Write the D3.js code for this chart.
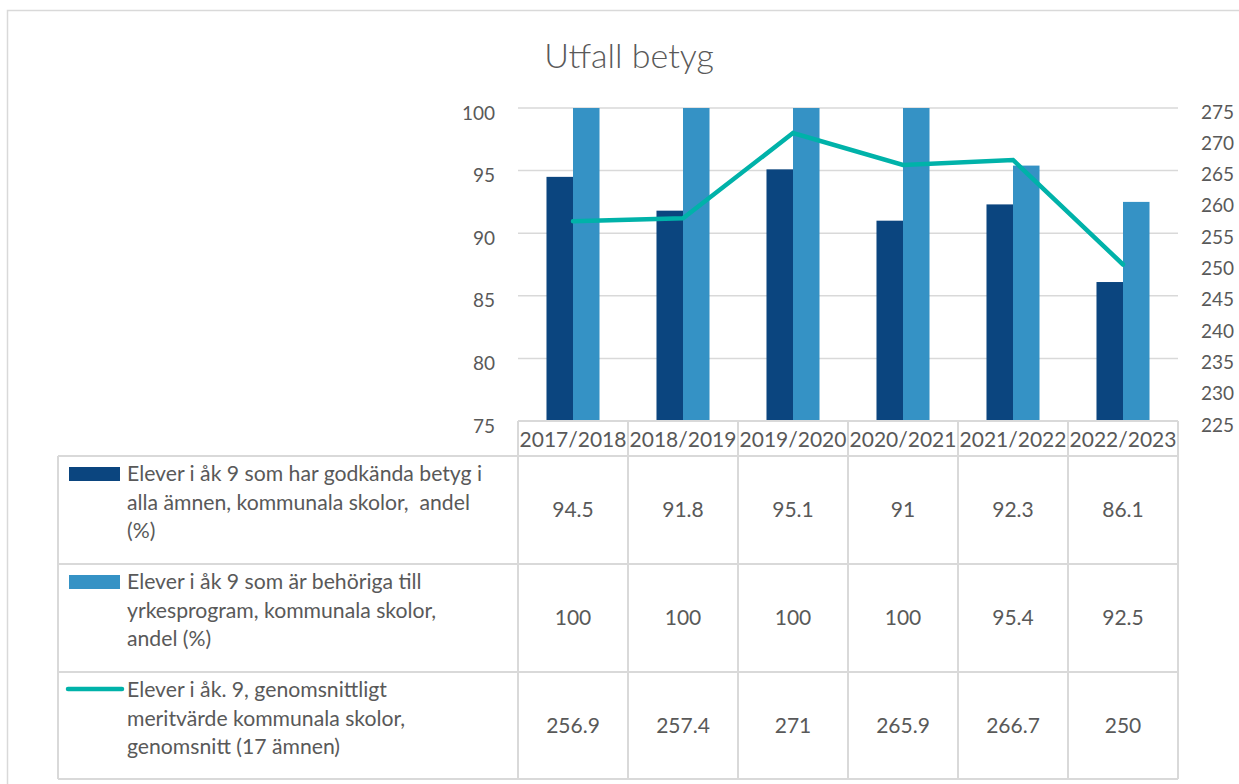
<!DOCTYPE html>
<html>
<head>
<meta charset="utf-8">
<script src="https://cdn.jsdelivr.net/npm/d3@7"></script>
<style>
  html, body { margin: 0; padding: 0; background: #fff; }
  svg { display: block; font-family: Lato, "Open Sans", sans-serif; }
</style>
</head>
<body>
<svg id="chart" width="1239" height="784"></svg>
<script>
// ---- data ----
const title = "Utfall betyg";
const categories = ["2017/2018", "2018/2019", "2019/2020", "2020/2021", "2021/2022", "2022/2023"];
const godkandaValues = [94.5, 91.8, 95.1, 91, 92.3, 86.1];
const behorigaValues = [100, 100, 100, 100, 95.4, 92.5];
const meritValues = [256.9, 257.4, 271, 265.9, 266.7, 250];
const leftTicks = [75, 80, 85, 90, 95, 100];
const rightTicks = [225, 230, 235, 240, 245, 250, 255, 260, 265, 270, 275];
const seriesNames = [
  ["Elever i åk 9 som har godkända betyg i", "alla ämnen, kommunala skolor,  andel", "(%)"],
  ["Elever i åk 9 som är behöriga till", "yrkesprogram, kommunala skolor,", "andel (%)"],
  ["Elever i åk. 9, genomsnittligt", "meritvärde kommunala skolor,", "genomsnitt (17 ämnen)"]
];
const tableValues = [
  ["94.5", "91.8", "95.1", "91", "92.3", "86.1"],
  ["100", "100", "100", "100", "95.4", "92.5"],
  ["256.9", "257.4", "271", "265.9", "266.7", "250"]
];

// ---- styles ----
const darkBlue = "#0b457f";
const lightBlue = "#3592c5";
const teal = "#00b2a9";
const textColor = "#595959";
const gridColor = "#d9d9d9";

const svg = d3.select("#chart");

// outer border
svg.append("rect").attr("x", 7.5).attr("y", 10.5).attr("width", 1400).attr("height", 900)
  .attr("fill", "none").attr("stroke", gridColor).attr("stroke-width", 1.5);

// title
svg.append("text").attr("x", 629).attr("y", 68).attr("text-anchor", "middle")
  .attr("fill", textColor).attr("font-size", 34).attr("font-weight", 300).text(title);

// scales
const plotLeft = 518, plotRight = 1178, plotTop = 108, plotBottom = 421;
const x = d3.scaleBand().domain(categories).range([plotLeft, plotRight]).paddingInner(0.518).paddingOuter(0.259);
const xCat = d3.scaleBand().domain(categories).range([plotLeft, plotRight]).padding(0);
const xSub = d3.scaleBand().domain([0, 1]).range([0, x.bandwidth()]);
const yL = d3.scaleLinear().domain([75, 100]).range([plotBottom, plotTop]);
const yR = d3.scaleLinear().domain([225, 275]).range([plotBottom, plotTop]);

// gridlines
svg.append("g").selectAll("line").data(leftTicks.filter(t => t > 75)).join("line")
  .attr("x1", plotLeft).attr("x2", plotRight)
  .attr("y1", d => yL(d)).attr("y2", d => yL(d))
  .attr("stroke", gridColor).attr("stroke-width", 1.5);

// left axis
const leftAxis = d3.axisLeft(yL).tickValues(leftTicks).tickSize(0).tickPadding(0);
const gL = svg.append("g").attr("transform", `translate(${plotLeft - 23},0)`).call(leftAxis);
gL.select(".domain").remove();
gL.selectAll("text").attr("fill", textColor).attr("font-size", 19)
  .attr("font-family", "Lato, sans-serif").attr("dy", "0.32em")
  .attr("transform", "translate(0,5)");

// right axis
const rightAxis = d3.axisRight(yR).tickValues(rightTicks).tickSize(0).tickPadding(0);
const gR = svg.append("g").attr("transform", `translate(${plotRight + 23},0)`).call(rightAxis);
gR.select(".domain").remove();
gR.selectAll("text").attr("fill", textColor).attr("font-size", 19)
  .attr("font-family", "Lato, sans-serif").attr("dy", "0.32em")
  .attr("transform", "translate(0,4)");

// bars
const barSeries = [godkandaValues, behorigaValues];
const barColors = [darkBlue, lightBlue];
barSeries.forEach((vals, si) => {
  svg.append("g").selectAll("rect").data(vals).join("rect")
    .attr("x", (d, i) => x(categories[i]) + xSub(si))
    .attr("width", xSub.bandwidth())
    .attr("y", d => yL(d))
    .attr("height", d => yL(75) - yL(d))
    .attr("fill", barColors[si]);
});

// line
const line = d3.line()
  .x((d, i) => xCat(categories[i]) + xCat.bandwidth() / 2)
  .y(d => yR(d));
svg.append("path").datum(meritValues).attr("d", line)
  .attr("fill", "none").attr("stroke", teal).attr("stroke-width", 4.5)
  .attr("stroke-linejoin", "miter").attr("stroke-linecap", "round");

// ---- data table ----
const tableLeft = 58, headerTop = plotBottom, headerBottom = 456;
const rowH = 108;
const rowTops = [0, 1, 2].map(i => headerBottom + i * rowH);
const tableBottom = headerBottom + 3 * rowH - 1;
const tbl = svg.append("g");

// header horizontal line
tbl.append("line").attr("x1", plotLeft).attr("x2", plotRight)
  .attr("y1", headerTop).attr("y2", headerTop).attr("stroke", gridColor).attr("stroke-width", 2);
// row horizontal lines
[...rowTops, tableBottom].forEach(yy => {
  tbl.append("line").attr("x1", tableLeft).attr("x2", plotRight)
    .attr("y1", yy).attr("y2", yy).attr("stroke", gridColor).attr("stroke-width", 2);
});
// verticals
const vx = categories.map(c => xCat(c)).concat([plotRight]);
vx.forEach(xx => {
  tbl.append("line").attr("x1", xx).attr("x2", xx)
    .attr("y1", headerTop).attr("y2", tableBottom).attr("stroke", gridColor).attr("stroke-width", 2);
});
tbl.append("line").attr("x1", tableLeft).attr("x2", tableLeft)
  .attr("y1", headerBottom).attr("y2", tableBottom).attr("stroke", gridColor).attr("stroke-width", 2);

// category labels
tbl.selectAll("text.cat").data(categories).join("text").attr("class", "cat")
  .attr("x", d => xCat(d) + xCat.bandwidth() / 2)
  .attr("y", (headerTop + headerBottom) / 2 + 1)
  .attr("dy", "0.35em").attr("text-anchor", "middle")
  .attr("fill", textColor).attr("font-size", 21).text(d => d);

// values
tableValues.forEach((row, ri) => {
  tbl.append("g").selectAll("text").data(row).join("text")
    .attr("x", (d, i) => xCat(categories[i]) + xCat.bandwidth() / 2)
    .attr("y", rowTops[ri] + rowH / 2)
    .attr("dy", "0.35em").attr("text-anchor", "middle")
    .attr("fill", textColor).attr("font-size", 21).text(d => d);
});

// legend keys and names
seriesNames.forEach((lines, ri) => {
  const top = rowTops[ri];
  if (ri < 2) {
    tbl.append("rect").attr("x", 69).attr("y", top + 11).attr("width", 51).attr("height", 14)
      .attr("fill", barColors[ri]);
  } else {
    tbl.append("line").attr("x1", 68).attr("x2", 122).attr("y1", top + 17).attr("y2", top + 17)
      .attr("stroke", teal).attr("stroke-width", 4.5).attr("stroke-linecap", "round");
  }
  const t = tbl.append("text").attr("fill", textColor).attr("font-size", 21.2);
  lines.forEach((ln, li) => {
    t.append("tspan").attr("x", 127).attr("y", top + 25 + li * 28.7)
      .attr("xml:space", "preserve").style("white-space", "pre").text(ln);
  });
});
</script>
</body>
</html>
